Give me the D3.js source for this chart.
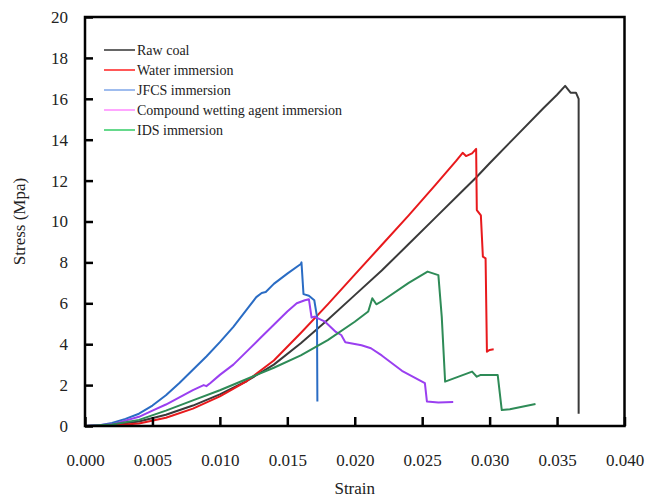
<!DOCTYPE html>
<html>
<head>
<meta charset="utf-8">
<script src="https://cdn.jsdelivr.net/npm/d3@7"></script>
<style>
  html, body { margin: 0; padding: 0; background: #fff; }
  svg { display: block; }
</style>
</head>
<body>
<script>
// ---------- data ----------
const xTicks = [0.000, 0.005, 0.010, 0.015, 0.020, 0.025, 0.030, 0.035, 0.040];
const yTicks = [0, 2, 4, 6, 8, 10, 12, 14, 16, 18, 20];

const seriesNames = ["Raw  coal", "Water immersion", "JFCS immersion", "Compound wetting agent immersion", "IDS immersion"];
const lineColors = ["#3a3a3a", "#e8191c", "#2a6cc4", "#9a3ff0", "#2e8b57"];
const legendColors = ["#333333", "#ff2020", "#7fa6e8", "#ff88ff", "#33cc66"];

const rawStrain = [0, 0.002, 0.004, 0.006, 0.008, 0.010, 0.012, 0.014, 0.016, 0.018, 0.020, 0.022, 0.024, 0.026, 0.028, 0.029, 0.030, 0.032, 0.034, 0.035, 0.0356, 0.0360, 0.0364, 0.0366, 0.0366];
const rawStress = [0, 0.05, 0.22, 0.55, 1.0, 1.55, 2.2, 3.0, 4.05, 5.2, 6.4, 7.6, 8.9, 10.2, 11.5, 12.15, 12.85, 14.2, 15.55, 16.2, 16.63, 16.3, 16.3, 16.0, 0.6];

const waterStrain = [0, 0.002, 0.004, 0.006, 0.008, 0.010, 0.012, 0.014, 0.016, 0.018, 0.020, 0.022, 0.024, 0.026, 0.0275, 0.0280, 0.02825, 0.0287, 0.0290, 0.02905, 0.02935, 0.0295, 0.0297, 0.0298, 0.0300, 0.0303];
const waterStress = [0, 0.02, 0.12, 0.4, 0.85, 1.45, 2.2, 3.2, 4.55, 5.95, 7.4, 8.85, 10.3, 11.8, 12.95, 13.36, 13.2, 13.33, 13.55, 10.56, 10.3, 8.28, 8.2, 3.63, 3.72, 3.75];

const jfcsStrain = [0, 0.001, 0.002, 0.003, 0.004, 0.005, 0.006, 0.007, 0.008, 0.009, 0.010, 0.011, 0.012, 0.0127, 0.0131, 0.0134, 0.014, 0.015, 0.0160, 0.01605, 0.0162, 0.0166, 0.0170, 0.0172, 0.01723];
const jfcsStress = [0, 0.03, 0.15, 0.35, 0.6, 1.0, 1.5, 2.1, 2.75, 3.4, 4.1, 4.85, 5.7, 6.3, 6.5, 6.55, 6.95, 7.45, 7.92, 8.0, 6.45, 6.37, 6.15, 5.35, 1.2];

const compStrain = [0, 0.002, 0.004, 0.005, 0.006, 0.007, 0.008, 0.0088, 0.009, 0.0093, 0.010, 0.011, 0.012, 0.013, 0.014, 0.015, 0.0157, 0.0163, 0.0166, 0.0168, 0.0170, 0.0178, 0.0186, 0.0190, 0.0193, 0.0205, 0.0212, 0.0220, 0.0235, 0.0252, 0.02535, 0.0262, 0.0273];
const compStress = [0, 0.08, 0.45, 0.75, 1.05, 1.4, 1.75, 2.0, 1.95, 2.1, 2.5, 3.0, 3.65, 4.3, 4.95, 5.6, 6.0, 6.15, 6.2, 5.3, 5.35, 5.1, 4.6, 4.45, 4.1, 3.95, 3.8, 3.45, 2.7, 2.1, 1.2, 1.15, 1.17];

const idsStrain = [0, 0.002, 0.004, 0.006, 0.008, 0.010, 0.012, 0.014, 0.016, 0.018, 0.020, 0.021, 0.0213, 0.0216, 0.022, 0.024, 0.0254, 0.0262, 0.02645, 0.0267, 0.0287, 0.02905, 0.0293, 0.0306, 0.0309, 0.0315, 0.0334];
const idsStress = [0, 0.07, 0.3, 0.75, 1.25, 1.75, 2.3, 2.85, 3.45, 4.2, 5.1, 5.6, 6.25, 5.95, 6.1, 7.0, 7.55, 7.38, 5.35, 2.17, 2.66, 2.41, 2.49, 2.49, 0.78, 0.82, 1.08];

const seriesStrain = [rawStrain, waterStrain, jfcsStrain, compStrain, idsStrain];
const seriesStress = [rawStress, waterStress, jfcsStress, compStress, idsStress];

// ---------- layout ----------
const W = 654, H = 497;
const L = 85, R = 624.5, T = 17, B = 426;
const FONT = "'Times New Roman', 'Liberation Serif', 'DejaVu Serif', serif";

const svg = d3.select("body").append("svg").attr("width", W).attr("height", H);

const x = d3.scaleLinear().domain([0, 0.04]).range([L, R]);
const y = d3.scaleLinear().domain([0, 20]).range([B, T]);

// series lines
const line = d3.line().x(d => x(d[0])).y(d => y(d[1]));
seriesStrain.forEach((xs, i) => {
  const pts = xs.map((v, j) => [v, seriesStress[i][j]]);
  svg.append("path")
    .attr("d", line(pts))
    .attr("fill", "none")
    .attr("stroke", lineColors[i])
    .attr("stroke-width", 2)
    .attr("stroke-linejoin", "round");
});

// axes (inside ticks)
const xAxis = d3.axisBottom(x).tickValues(xTicks).tickSize(-9).tickPadding(28)
  .tickFormat(d3.format(".3f"));
const gx = svg.append("g").attr("transform", `translate(0,${B})`).call(xAxis);
gx.select(".domain").remove();
gx.selectAll(".tick line").attr("stroke", "#000").attr("stroke-width", 2.5);
gx.selectAll(".tick text").style("font-size", "17px").style("font-family", FONT).attr("fill", "#222");

const yAxis = d3.axisLeft(y).tickValues(yTicks).tickSize(-8).tickPadding(17)
  .tickFormat(d3.format("d"));
const gy = svg.append("g").attr("transform", `translate(${L},0)`).call(yAxis);
gy.select(".domain").remove();
gy.selectAll(".tick line").attr("stroke", "#000").attr("stroke-width", 2.5);
gy.selectAll(".tick text").style("font-size", "17px").style("font-family", FONT).attr("fill", "#222");

// frame
svg.append("rect")
  .attr("x", L).attr("y", T).attr("width", R - L).attr("height", B - T)
  .attr("fill", "none").attr("stroke", "#000").attr("stroke-width", 2.5);

// axis titles
svg.append("text").attr("x", (L + R) / 2).attr("y", 494)
  .attr("text-anchor", "middle").style("font-size", "17px").style("font-family", FONT)
  .attr("fill", "#222").text("Strain");
svg.append("text")
  .attr("transform", `translate(25,${(T + B) / 2}) rotate(-90)`)
  .attr("text-anchor", "middle").style("font-size", "17px").style("font-family", FONT)
  .attr("fill", "#222").text("Stress (Mpa)");

// legend
const lg = svg.append("g");
seriesNames.forEach((name, i) => {
  const yy = 50 + i * 20;
  lg.append("line").attr("x1", 104).attr("x2", 135).attr("y1", yy).attr("y2", yy)
    .attr("stroke", legendColors[i]).attr("stroke-width", 1.5);
  lg.append("text").attr("x", 137).attr("y", yy + 4.5)
    .style("font-size", "14px").style("font-family", FONT).attr("fill", "#222").text(name);
});
</script>
</body>
</html>
